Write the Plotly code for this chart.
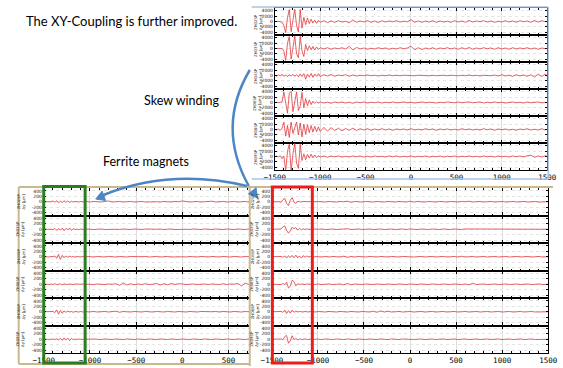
import plotly.graph_objects as go

W, H = 563, 368

# x grid (turns)
X = [-1500, -1480, -1460, -1440, -1420, -1400, -1380, -1360, -1340, -1320, -1300, -1280, -1260,
     -1240, -1220, -1200, -1180, -1160, -1140, -1120, -1100, -1080, -1060, -1040, -1020, -1000,
     -960, -920, -880, -840, -800, -760, -720, -680, -640, -600, -560, -520, -480, -440, -400,
     -360, -320, -280, -240, -200, -160, -120, -80, -40, 0, 40, 80, 120, 160, 200, 240, 280, 320,
     360, 400, 440, 480, 520, 560, 600, 640, 680, 720, 760, 800, 840, 880, 920, 960, 1000, 1040,
     1080, 1120, 1160, 1200, 1240, 1280, 1320, 1360, 1400, 1440, 1480, 1500]

# ---- Top panel: skew winding (um) ----
T1 = [0, 0, 100, 0, -300, -1500, -4200, 1500, 4500, -3800, 500, 4600, -1500, -4000, 4500, -2500, 1600, -1200, 1300, -800, 900, -600, 500, -700, 400, -300,
      300, -400, 200, -300, 300, -200, 100, -500, 600, -300, 200, -200, 300, -300, 200, -400, 300, -200, 200, -100,
      300, -200, 100, -100, 700, -300, 200, -300, 200, -200, 300, -300, 200, -200, 100, -300, 300, -200, 200, -300,
      400, -200, 200, -100, 300, -200, 200, -300, 100, -200, 300, -200, 200, -300, 300, -100, 200, -300, 400, -200,
      300, -100, 0]
T2 = [0, 0, 0, 0, 0, -1000, -4500, 2000, 4500, -4000, 0, 4600, -2000, -3500, 4600, -1000, -3000, 1500, -800, 1000, -500, 800, -600, 600, -400, 300,
      -200, 300, -300, 200, -100, 300, -200, 800, -600, 400, -200, 200, -300, 100, -200, 300, -100, 200, -300, 100,
      -200, 300, -100, 200, 900, -500, 300, -400, 200, -200, 300, -300, 200, -100, 300, -200, 200, -300, 300, -200,
      400, -300, 200, -200, 300, -100, 200, -300, 300, -200, 200, -300, 300, -200, 200, -100, 300, -200, 200, -300,
      200, -100, 100]
T3 = [200, -300, 300, -200, 500, -300, 200, -400, 300, -200, 400, -300, 300, -500, 600, -400, 700, -1400, 500, -600, 800, -700, 600, -300, 700, -400,
      300, -200, 400, -300, 200, -100, 300, -300, 200, -200, 100, -100, 200, -100, 100, -200, 100, -100, 200, -100,
      100, -100, 100, 0, 100, -100, 100, 0, 100, -100, 100, -100, 0, 100, -100, 100, 0, -100, 100, -100,
      200, -100, 100, -200, 100, 0, -100, 200, -200, 300, -200, 100, -300, 300, -200, 200, -300, 300, -600, 500,
      -400, 600, -300]
T4 = [0, 100, -100, 0, 200, 4000, -1000, -4000, 3500, 4200, -3500, 1000, 4000, -3000, -1500, 3800, -2000, 1500, -1200, 1000, -800, 500, -300, 300, -200, 200,
      -200, 100, -300, 200, -100, 200, -200, 100, -300, 200, -100, 200, -200, 100, -100, 200, -200, 100, -100, 200,
      -100, 0, 200, -100, 100, -200, 100, 200, -100, 100, 0, -200, 100, -100, 200, 0, -100, 200, -100, 100,
      200, -100, 0, 200, -200, 100, -100, 200, -100, 100, -200, 100, 200, -100, 100, -200, 200, -100, 0, 200,
      -100, 100, 0]
T5 = [0, -200, 200, -300, 500, 2800, -2500, 1500, -3000, 2800, -1500, 1000, 2800, -2000, 2500, -2800, 2000, -1800, 1800, -1200, 1500, -1000, 1200, -800, 1000, -700,
      800, -600, 700, -400, 500, -500, 400, -300, 500, -400, 300, -200, 300, -300, 200, -200, 300, -200, 200, -300,
      200, -100, 200, -200, 300, -200, 100, -200, 300, -100, 200, -300, 200, -100, 200, -200, 100, -200, 300, -100,
      200, -200, 100, -200, 300, -100, 200, -300, 200, -100, 200, -200, 100, -300, 200, -100, 300, -200, 100, -200,
      300, -200, 100]
T6 = [0, 100, -200, 300, -800, 200, -5500, 2000, 4600, -5500, 1000, 5000, -2500, -4500, 4600, -1500, 1000, -1200, 800, -600, 900, -500, 600, -400, 300, -200,
      200, -300, 200, -100, 200, -200, 100, -200, 200, -100, 200, -200, 100, -200, 200, -100, 100, -200, 200, -100,
      200, -200, 100, -100, 200, -200, 100, -100, 200, -200, 100, -100, 200, -200, 100, -100, 200, -200, 100, -100,
      200, -100, 100, -200, 200, -100, 100, -200, 200, -100, 100, -200, 200, -100, 200, -200, 300, 500, -300, 200,
      -200, 300, -100]

# ---- Bottom-left panel: ferrite magnets (um) ----
BL1 = [0, 0, 10, -10, 0, 30, -20, 40, -40, 20, -30, 40, -20, 30, -30, 20, -10, 10, 0, -10, 10, 0, -10, 10, 0, -10,
       10, 0, -10, 10, 30, -10, 0, 10, -10, 0, 10, -10, 0, 10, -10, 0, 10, 0, -10, 10,
       0, -10, 10, 0, 30, 10, -10, 0, 10, -10, 0, 10, 20, -10, 0, 10, -10, 0, 10, -10, 0, 10, -10, 0]
BL2 = [0, 0, -10, 10, 0, -20, 30, -40, 20, -30, 40, -50, 30, -20, 50, -40, 20, -10, 10, -20, 10, 0, -10, 10, 0, 10,
       -10, 0, 10, -10, 0, 10, 0, -10, 10, 0, -10, 10, 0, -10, 10, 0, -10, 0, 10, -10,
       0, 10, -10, 0, 10, 0, -10, 10, 0, -10, 10, 0, -10, 10, 0, -10, 10, 0, -10, 10, 0, -10, 10, 0]
BL3 = [0, 10, 0, -10, 10, 0, 30, -60, 90, -100, 50, -40, 30, -20, 20, -10, 10, -20, 10, 0, -10, 10, 0, -10, 10, 0,
       -10, 10, 0, -10, 10, 0, -10, 10, 0, -10, 10, 0, -10, 0, 10, -10, 0, 10, -10, 0,
       10, -10, 0, 10, 0, -10, 10, 0, -10, 10, 0, -10, 10, 0, -10, 10, 0, -10, 10, 0, -10, 10, 0, -10]
BL4 = [0, 10, 0, -10, 10, -10, 20, -10, 0, 10, -20, 10, 0, -10, 10, 0, -10, 10, 0, -10, 0, 10, -10, 0, 10, 0,
       -10, 10, 0, -10, 10, 0, 20, -40, 50, -30, 20, -20, 10, -10, 20, -10, 0, 30, -30, 20,
       -20, 30, -10, 20, 10, -10, 0, 10, -10, 0, 10, -10, 10, 0, -10, 20, -10, 10, 0, 30, -60, 40, -10, 0]
BL5 = [0, 0, 10, -10, 0, 10, -30, 70, -90, 50, -60, 30, -20, 20, -10, 10, -20, 10, 0, -10, 10, -10, 0, 10, -10, 0,
       10, -10, 0, 10, -10, 0, 20, -20, 10, 0, -10, 10, 0, -10, 10, 0, -10, 10, 0, -10,
       10, 0, -10, 10, 0, -10, 10, 0, -10, 10, 0, -10, 0, 10, -10, 10, 0, -10, 10, 0, -10, 10, 0, -10]
BL6 = [0, 10, 0, -10, 0, 10, -10, 20, -30, 40, -40, 50, -30, 40, -50, 30, -20, 10, -10, 10, 0, -10, 10, 0, -10, 0,
       10, 0, -10, 10, 0, -10, 10, 0, -10, 10, 0, -10, 10, 0, -10, 10, 0, -10, 10, 0,
       -10, 10, 0, -10, 10, 0, -10, 10, 0, -10, 10, 0, -10, 10, 0, -10, 10, 0, -10, 10, 0, -10, 10, 0]

# ---- Bottom-right panel: skew winding, before ferrite (um) ----
BR1 = [0, 0, 0, 10, 0, -20, 80, 120, -60, -140, 60, 150, -20, -60, 20, 0, -10, 10, 0, -10, 0, 10, 0, -10, 0, 10,
       0, -10, 10, 0, -10, 10, 0, 20, -20, 10, 0, -10, 10, 0, -10, 10, 0, -10, 10, 0,
       -10, 10, 0, -10, 20, -10, 10, 0, -10, 10, 0, -10, 10, 0, -10, 10, 0, -10, 10, 0,
       20, -10, 0, 10, -10, 0, 10, -10, 0, 10, -10, 0, 10, -10, 0, 10, -10, 0, 10, -10, 0, 10, 0]
BR2 = [0, 0, 0, 0, -10, 10, 90, 120, -40, -150, -60, 80, 20, 60, -30, 30, -20, 20, -10, 10, 0, -10, 0, 10, 0, 0,
       10, -10, 0, 10, -10, 0, 10, 20, -10, 0, 10, -10, 0, 10, -10, 0, 10, -10, 0, 10,
       -10, 0, 10, -10, 10, 0, -10, 10, 0, -10, 10, 0, -10, 10, 0, -10, 10, 0, -10, 10,
       10, -10, 0, 10, -10, 0, 10, -10, 0, 10, -10, 0, 10, -10, 0, 10, -10, 0, 10, -10, 0, 10, 0]
BR3 = [0, 0, 10, 0, -10, 10, -20, 30, -50, 40, -30, 50, -40, 60, -40, 30, -50, 40, -20, 30, -10, 10, 0, -10, 10, 0,
       -10, 10, -10, 10, 0, -10, 20, -20, 10, -10, 10, 0, -10, 10, 0, -10, 10, 0, -10, 10,
       0, -10, 10, 0, 10, -10, 0, 10, -10, 0, 10, -10, 0, 10, -10, 0, 10, -10, 20, -10,
       0, 10, -10, 0, 10, -10, 0, 10, -10, 0, 10, -10, 0, 10, -10, 0, 10, -10, 0, 10, -10, 0, 0]
BR4 = [0, 0, 0, 0, 10, -10, 30, -20, 80, -140, -80, 150, 100, -60, 20, -10, 10, 0, -10, 10, 0, 0, 10, -10, 0, 10,
       -10, 0, 10, -10, 0, 10, -20, 30, -20, 10, 0, -10, 10, 0, -10, 10, 0, -10, 10, 0,
       -10, 10, 0, -10, 10, 0, -10, 10, 0, -10, 10, 0, -10, 10, 0, -10, 10, 0, -10, 10,
       -20, 40, -10, 0, 10, -10, 0, 10, -10, 0, 10, -10, 0, 10, -10, 0, 10, -10, 0, 10, -10, 0, 0]
BR5 = [0, 0, 0, 0, -10, 10, -20, 60, -70, 40, -50, 60, -20, 20, -10, 10, 0, -10, 10, 0, -10, 10, 0, 0, -10, 10,
       0, -10, 10, 0, -10, 10, 0, -10, 10, 0, -10, 10, 0, -10, 20, -20, 30, -10, 20, -10,
       0, 10, -10, 0, 10, -10, 0, 10, -10, 0, 10, -10, 0, 10, -10, 0, 10, -10, 0, 10,
       -10, 0, 10, -10, 0, 10, -10, 0, 10, -10, 0, 10, -10, 0, 10, -10, 0, 10, -10, 0, 10, 0, 0]
BR6 = [0, 0, 0, 0, 0, 10, -20, 100, 140, -150, -60, 130, -20, 30, -20, 10, 0, -10, 10, 0, -10, 10, 0, -10, 10, 0,
       -10, 10, 0, -10, 10, 0, -10, 10, 0, -10, 10, 0, -10, 10, 0, -10, 10, 0, -10, 10,
       0, -10, 10, 0, 10, -10, 0, 10, -10, 0, 10, -10, 0, 10, -10, 0, 10, -10, 0, 10,
       -10, 0, 10, -10, 0, 10, -10, 0, 10, -10, 0, 10, -10, 0, 10, -10, 0, 10, -10, 0, 10, 0, 0]

TOP_NAMES = ["ZH02SP", "ZH03SP", "ZH04SP", "ZH06SP", "ZH08SP", "ZH09SP"]
BL_NAMES = ["ZH02SP", "ZH03SP", "ZH04SP", "ZH06SP", "ZH08SP", "ZH09SP"]
BR_NAMES = ["ZH02SP", "ZH03SP", "ZH04SP", "ZH06SP", "ZH08SP", "ZH09SP"]
TOP_YTICKS = [-4000, -2000, 0, 2000, 4000]
BOT_YTICKS = [-400, -200, 0, 200, 400]

TITLE = "The XY-Coupling is further improved."
LBL_SKEW = "Skew winding"
LBL_FERRITE = "Ferrite magnets"

panels = [
    dict(series=[T1, T2, T3, T4, T5, T6], names=TOP_NAMES, x0=274, x1=557, top=8, bot=170,
         xr=[-1500, 1500], yr=[-5100, 5100], yt=TOP_YTICKS, lab_x=256, right=True),
    dict(series=[BL1, BL2, BL3, BL4, BL5, BL6], names=BL_NAMES, x0=34, x1=248, top=188, bot=353,
         xr=[-1500, 729], yr=[-510, 510], yt=BOT_YTICKS, lab_x=10, right=False),
    dict(series=[BR1, BR2, BR3, BR4, BR5, BR6], names=BR_NAMES, x0=271, x1=558, top=188, bot=353,
         xr=[-1500, 1500], yr=[-510, 510], yt=BOT_YTICKS, lab_x=253, right=True),
]

fig = go.Figure()
layout = {}
annotations = []
shapes = []
idx = 0
for p in panels:
    n = len(p['series'])
    h = (p['bot'] - p['top']) / n
    for r, (ys, nm) in enumerate(zip(p['series'], p['names'])):
        idx += 1
        sfx = '' if idx == 1 else str(idx)
        xs = X[:len(ys)]
        fig.add_trace(go.Scatter(x=xs, y=ys, mode='lines',
                                 line=dict(color='#e2383d', width=0.8),
                                 xaxis='x' + sfx, yaxis='y' + sfx,
                                 showlegend=False, hoverinfo='skip'))
        yt = p['top'] + r * h
        yb = yt + h
        last = (r == n - 1)
        layout['xaxis' + sfx] = dict(
            domain=[p['x0'] / W, p['x1'] / W], range=p['xr'], anchor='y' + sfx,
            showline=True, linecolor='black', linewidth=1.2, mirror='ticks',
            ticks='inside', ticklen=3, tickcolor='black', tickwidth=1,
            tickmode='linear', tick0=0, dtick=500,
            showgrid=True, gridcolor='#dcdcdc', gridwidth=0.8, zeroline=False,
            showticklabels=last, ticklabeloverflow='allow',
            tickfont=dict(family='DejaVu Sans Mono', size=7.5, color='black'),
            minor=dict(ticks='inside', ticklen=1.5, tickmode='linear', dtick=100, tick0=0,
                       tickcolor='black', tickwidth=0.8, showgrid=False),
        )
        layout['yaxis' + sfx] = dict(
            domain=[1 - yb / H, 1 - yt / H], range=p['yr'], anchor='x' + sfx,
            showline=True, linecolor='black', linewidth=0.8,
            mirror='ticks' if p['right'] else False,
            ticks='inside', ticklen=2, tickcolor='black', tickwidth=0.8,
            tickvals=p['yt'], ticktext=[str(v) for v in p['yt']],
            tickfont=dict(family='DejaVu Sans', size=4.5, color='#222'),
            showgrid=True, gridcolor='#e4e4e4', griddash='dot', gridwidth=0.7,
            zeroline=False,
        )
        annotations.append(dict(
            x=p['lab_x'] / W, y=1 - (yt + h / 2) / H, xref='paper', yref='paper',
            text=nm + '<br>Δy [μm]', textangle=-90, showarrow=False,
            font=dict(family='DejaVu Sans', size=3.8, color='#333'),
            xanchor='center', yanchor='middle'))


def px(x):
    return x / W


def py(y):
    return 1 - y / H


def line(x0, y0, x1, y1, color, width):
    return dict(type='line', xref='paper', yref='paper', x0=px(x0), y0=py(y0),
                x1=px(x1), y1=py(y1), line=dict(color=color, width=width))


def P(x, y):
    return f"{px(x):.5f},{py(y):.5f}"


# top panel light-blue border
BLUE_BORDER = '#a9c3e3'
shapes += [line(250, 7, 558, 7, BLUE_BORDER, 1.5),
           line(558, 7, 558, 179, BLUE_BORDER, 1.5),
           line(250, 179, 558, 179, BLUE_BORDER, 1.5)]
# bottom tan frame
TAN = '#c8ba8c'
shapes += [line(8, 187, 563, 187, TAN, 2),
           line(8, 187, 8, 364, TAN, 2),
           line(8, 364, 248, 364, TAN, 2),
           line(248, 187, 248, 366, TAN, 2)]
# highlight boxes
shapes.append(dict(type='rect', xref='paper', yref='paper', x0=px(34), x1=px(77), y0=py(363), y1=py(186.5),
                   line=dict(color='#2b7d1f', width=3)))
shapes.append(dict(type='rect', xref='paper', yref='paper', x0=px(271.5), x1=px(313), y0=py(363), y1=py(187),
                   line=dict(color='#ee1d1d', width=3)))

# curved arrows
ARROW = '#4d85c5'


def head(tip, d, L=9, Wd=5):
    import math
    n = math.hypot(*d)
    ux, uy = d[0] / n, d[1] / n
    bx, by = tip[0] - L * ux, tip[1] - L * uy
    c1 = (bx - Wd * uy, by + Wd * ux)
    c2 = (bx + Wd * uy, by - Wd * ux)
    return dict(type='path', xref='paper', yref='paper',
                path=f"M {P(*tip)} L {P(*c1)} L {P(*c2)} Z",
                fillcolor=ARROW, line=dict(color=ARROW, width=1))


# skew winding arrow
shapes.append(dict(type='path', xref='paper', yref='paper',
                   path=f"M {P(248, 70)} Q {P(213, 127)} {P(247, 186)}",
                   line=dict(color=ARROW, width=2.5)))
shapes.append(head((256, 198), (9, 12)))
# ferrite arrow
shapes.append(dict(type='path', xref='paper', yref='paper',
                   path=f"M {P(245, 186)} Q {P(166, 168)} {P(96, 195)}",
                   line=dict(color=ARROW, width=2.5)))
shapes.append(head((88, 199), (-71, 27)))

TXT_FONT = 'Lato'
annotations += [
    dict(x=px(13), y=py(21), xref='paper', yref='paper', text=TITLE, showarrow=False,
         xanchor='left', yanchor='middle', font=dict(family=TXT_FONT, size=13, color='black')),
    dict(x=px(177), y=py(100), xref='paper', yref='paper', text=LBL_SKEW, showarrow=False,
         xanchor='center', yanchor='middle', font=dict(family=TXT_FONT, size=12.5, color='black')),
    dict(x=px(140), y=py(161), xref='paper', yref='paper', text=LBL_FERRITE, showarrow=False,
         xanchor='center', yanchor='middle', font=dict(family=TXT_FONT, size=12.5, color='black')),
]

fig.update_layout(width=W, height=H, margin=dict(l=0, r=0, t=0, b=0),
                  paper_bgcolor='white', plot_bgcolor='white',
                  annotations=annotations, shapes=shapes, **layout)
fig.write_html("out.html", config={'displayModeBar': False})
